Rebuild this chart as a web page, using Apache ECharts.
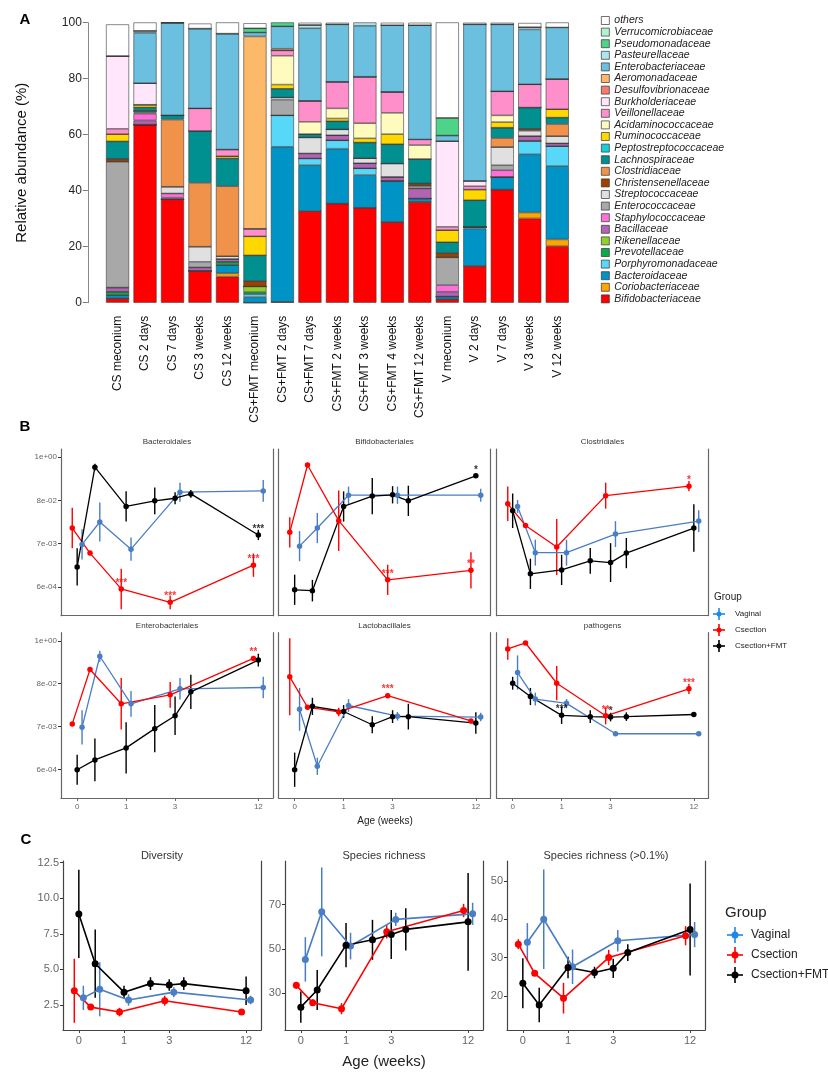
<!DOCTYPE html>
<html><head><meta charset="utf-8">
<script src="https://cdn.jsdelivr.net/npm/echarts@6/dist/echarts.min.js"></script>
<style>html,body{margin:0;padding:0;background:#fff}#c{width:828px;height:1087px}</style>
</head><body><div id="c"></div>
<script>
// ---------- Panel A data ----------
const samples=["CS meconium","CS 2 days","CS 7 days","CS 3 weeks","CS 12 weeks","CS+FMT meconium","CS+FMT 2 days","CS+FMT 7 days","CS+FMT 2 weeks","CS+FMT 3 weeks","CS+FMT 4 weeks","CS+FMT 12 weeks","V meconium","V 2 days","V 7 days","V 3 weeks","V 12 weeks"];
const families=["Bifidobacteriaceae","Coriobacteriaceae","Bacteroidaceae","Porphyromonadaceae","Prevotellaceae","Rikenellaceae","Bacillaceae","Staphylococcaceae","Enterococcaceae","Streptococcaceae","Christensenellaceae","Clostridiaceae","Lachnospiraceae","Peptostreptococcaceae","Ruminococcaceae","Acidaminococcaceae","Veillonellaceae","Burkholderiaceae","Desulfovibrionaceae","Aeromonadaceae","Enterobacteriaceae","Pasteurellaceae","Pseudomonadaceae","Verrucomicrobiaceae","others"];
const famColors=["#FF0000","#FFA500","#0093C6","#58D8F8","#0CA84B","#90D02A","#B462B2","#FF6FD8","#A8A8A8","#E0E0E0","#A04000","#F0924A","#009090","#16CFD9","#FFD800","#FFFBBF","#FF8FCB","#FFE6FA","#F47C6E","#FDB96A","#6BBFDF","#AEE6EF","#4DD488","#B2F2CF","#FFFFFF"];
const bifido=[1.5,63.6,36.9,11.4,9.3,0,0.3,32.7,35.4,33.9,28.8,36,1.2,13.1,40.4,30.1,20.2];
const corio=[0,0,0,0,1.2,0,0,0,0,0,0,0,0,0,0,2.1,2.4];
const bacteroid=[1.2,0,0,0,2.9,2,55.4,16.4,19.6,11.7,14.7,1.2,1,13.4,4.5,20.8,26.2];
const porphyro=[0,0,0,0,0,1,11.2,2.4,3,2.4,0,0,0,0.6,0,4.8,7.1];
const prevotella=[1.2,0,0,0,1.2,0.8,0,0,0,0,0,0,0,0,0,0,0];
const rikenella=[0,0,0,0,0,2,0,0,0,0,0,0,0,0,0,0,0];
const bacillac=[1.5,1.5,0.6,1.2,1,0,0,1.8,1.8,1.8,1.4,3.6,1.7,0,0,1.7,1];
const staphylo=[0,2.4,1.5,0,0,0,0,0,0,0,0,0,2.4,0,2.4,0,0];
const enterococ=[45,0.5,0,2,0,0,5.6,0,0,0,0,1,9.9,0,1.8,0,0];
const strepto=[0,0.5,2.4,5.4,1,0,0.8,5.7,2.1,1.8,4.8,0,0,0,6.5,1.9,2.6];
const christen=[1,0,0,0,0,1.9,0,0,0,0,0,0.8,1.5,0,0,0.7,0];
const clostrid=[0,0,24,22.8,25,0,0,0,0,0,0,0,0,0,3.2,0,4.3];
const lachno=[6.2,1.2,1.5,18.5,9.9,9.2,3.1,1.2,2.9,5.6,6.9,8.7,3.9,9.5,3.7,7.6,2.3];
const peptostrep=[0,0,0,0,0,0,0,0,0,0,0,0,0,0,0,0,0];
const rumino=[2.6,1,0,0,0.8,6.8,1.5,0,1,1.5,3.6,0,4.3,3.8,2,0,3];
const acidamino=[0,0,0,0,0,0,10.3,4.4,3.6,5.4,7.6,5,0,0,2.4,0,0];
const veillon=[1.9,0,0,8.1,2.4,2.7,1.9,7.5,9.5,16.6,7.5,2,1.2,1.2,8.6,8.3,10.8];
const burkhold=[26,7.7,0,0,0,0,0,0,0,0,0,0,30.6,1.9,0,0,0];
const desulfo=[0,0,0,0,0,0,0,0,0,0,0,0,0,0,0,0,0];
const aeromon=[0,0,0,0,0,68.7,0.6,0,0,0,0,0,0,0,0,0,0];
const enterobact=[0,18,33.1,28.5,41.4,1.4,8,25.9,20.5,18.2,23.8,40.8,2,55.9,23.9,19.6,18.4];
const pasteur=[0,0.7,0,0,0,0,0,1.2,0,1.2,0,0,0,0,0,0.8,0];
const pseudomon=[0,0,0,0,0,1.5,1.5,0,0,0,0,0,6.3,0,0,0,0];
const verruco=[0,0,0,0,0,0,0,0,0,0,0,0,0,0,0,0,0];
const others=[11.3,3,0,1.8,4.2,1.8,0,0.8,0.6,0,0.9,0.9,34.4,0.6,0.6,1.5,1.8];
const famValues=[bifido,corio,bacteroid,porphyro,prevotella,rikenella,bacillac,staphylo,enterococ,strepto,christen,clostrid,lachno,peptostrep,rumino,acidamino,veillon,burkhold,desulfo,aeromon,enterobact,pasteur,pseudomon,verruco,others];
const aTicks=[0,20,40,60,80,100];

// ---------- Panel B data (log-abundance in axis-tick units: 0=1e+00,-1=8e-02,-2=7e-03,-3=6e-04) ----------
const groups=["Vaginal","Csection","Csection+FMT"];
const groupColors=["#4A7EC4","#FF0000","#000000"];
const weeksVC=[0,2/7,1,3,12];
const weeksF=[0,2/7,1,2,3,4,12];
const weekTicks=[0,1,3,12];
const bTickLabels=["1e+00","8e-02","7e-03","6e-04"];
const bOrders=["Bacteroidales","Bifidobacteriales","Clostridiales","Enterobacteriales","Lactobacillales","pathogens"];
const bVag=[[-2.02,-1.50,-2.13,-0.81,-0.78],[-2.06,-1.64,-0.88,-0.88,-0.88],[-1.14,-2.21,-2.21,-1.78,-1.48],[-2.02,-0.36,-1.47,-1.12,-1.09],[-1.60,-2.93,-1.51,-1.76,-1.78],[-0.74,-1.36,-1.46,-2.17,-2.17]];
const bVagErr=[[0.35,0.45,0.27,0.22,0.25],[0.35,0.35,0.2,0.2,0.15],[0.15,0.3,0.3,0.3,0.25],[0.4,0.13,0.3,0.25,0.25],[0.5,0.2,0.15,0.1,0.1],[0.4,0.15,0.1,0.05,0.05]];
const bCs=[[-1.64,-2.22,-3.05,-3.36,-2.50],[-1.74,-0.18,-1.47,-2.84,-2.62],[-1.08,-1.58,-2.08,-0.89,-0.67],[-1.94,-0.67,-1.47,-1.26,-0.41],[-0.84,-1.55,-1.66,-1.28,-1.87],[-0.19,-0.05,-0.99,-1.75,-1.12]];
const bCsErr=[[0.47,0.05,0.47,0.16,0.27],[0.35,0.05,0.7,0.35,0.42],[0.4,0.05,0.65,0.3,0.12],[0.03,0.05,0.6,0.3,0.05],[0.9,0.05,0.1,0.05,0.05],[0.25,0.03,0.4,0.2,0.12]];
const bFmt=[[-2.54,-0.23,-1.14,-1.01,-0.95,-0.85,-1.80],[-3.07,-3.09,-1.14,-0.90,-0.87,-1.01,-0.43],[-1.24,-2.70,-2.61,-2.40,-2.44,-2.22,-1.64],[-3.01,-2.78,-2.50,-2.05,-1.75,-1.19,-0.45],[-3.01,-1.53,-1.65,-1.96,-1.77,-1.77,-1.92],[-0.99,-1.30,-1.74,-1.77,-1.78,-1.77,-1.72]];
const bFmtErr=[[0.43,0.08,0.35,0.31,0.14,0.09,0.12],[0.35,0.25,0.35,0.42,0.2,0.35,0.05],[0.4,0.35,0.35,0.3,0.45,0.35,0.55],[0.35,0.5,0.6,0.55,0.45,0.4,0.15],[0.4,0.2,0.15,0.2,0.15,0.3,0.25],[0.15,0.2,0.2,0.15,0.1,0.1,0.03]];
// [panel, group, point index, text]
const bStars=[[0,1,2,"***"],[0,1,3,"***"],[0,1,4,"***"],[0,2,6,"***"],[1,1,3,"***"],[1,1,4,"**"],[1,2,6,"*"],[2,1,4,"*"],[3,1,4,"**"],[4,1,3,"***"],[5,2,2,"***"],[5,1,3,"**"],[5,2,4,"*"],[5,1,4,"***"]];

// ---------- Panel C data ----------
const cTitles=["Diversity","Species richness","Species richness (>0.1%)"];
const cTicks=[[2.5,5,7.5,10,12.5],[30,50,70],[20,30,40,50]];
const cVag=[[3.0,3.6,2.85,3.4,2.85],[45.3,66.7,51.3,63.3,65.8],[34,40,27.6,34.4,36]];
const cVagErr=[[0.85,1.9,0.4,0.35,0.3],[10,20,6,3,5],[5,13,4.5,2.8,3.3]];
const cCs=[[3.5,2.35,2.0,2.8,2.0],[33.6,25.8,23.1,57.7,67.3],[33.5,25.9,19.4,30,35.7]];
const cCsErr=[[2.25,0.2,0.3,0.35,0.2],[1.5,1.5,2.5,3,3],[1.3,0.5,4,2,2.5]];
const cFmt=[[8.9,5.4,3.4,4.0,3.9,4.0,3.5],[23.8,31.5,51.7,54.1,56.5,58.8,62.2],[23.3,17.6,27.4,26.1,27.2,31.3,37.3]];
const cFmtErr=[[3.1,2.4,0.45,0.45,0.4,0.45,1.0],[7,9,10,9,11,9.5,22],[6.5,4.5,2.8,1.5,2.5,2.2,12]];

// ---------- build ----------
const tx=w=>Math.log2(w+1);
const dodge=[0.1,-0.1,0];
const FONT="Liberation Sans, Arial, sans-serif";
const grids=[],xAxes=[],yAxes=[],series=[],graphic=[];
function weekLabel(v){let best=weekTicks[0];weekTicks.forEach(w=>{if(Math.abs(tx(w)-v)<Math.abs(tx(best)-v))best=w;});return String(best);}

// Panel A
grids.push({left:103.8,top:22.7,width:467.2,height:280});
xAxes.push({type:'category',gridIndex:0,data:samples,axisLine:{show:false},axisTick:{show:false},
  axisLabel:{rotate:90,fontSize:12,color:'#111',fontFamily:FONT,margin:13}});
yAxes.push({type:'value',gridIndex:0,min:0,max:100,offset:16,splitLine:{show:false},
  axisLabel:{customValues:aTicks,fontSize:12,color:'#222',fontFamily:FONT,margin:6},axisTick:{show:true,customValues:aTicks,length:5,lineStyle:{color:'#777'}},
  axisLine:{show:true,lineStyle:{color:'#888'}},
  name:'Relative abundance (%)',nameLocation:'middle',nameGap:58,nameTextStyle:{fontSize:15,color:'#111',fontFamily:FONT}});
families.forEach((f,i)=>{
  series.push({type:'bar',name:f,stack:'a',xAxisIndex:0,yAxisIndex:0,data:famValues[i],barCategoryGap:'16%',
    itemStyle:{color:famColors[i],borderColor:'#3a3a3a',borderWidth:0.6}});
});

function addLineGrid(box,xr,yr,yTicks,yLabelFn,showY,showX,fs,lineCol){
  const gi=grids.length;
  grids.push(box);
  xAxes.push({type:'value',gridIndex:gi,min:xr[0],max:xr[1],splitLine:{show:false},
    axisLine:{show:true,onZero:false,lineStyle:{color:lineCol,width:1.2}},
    axisTick:{show:showX,customValues:weekTicks.map(tx),length:3,lineStyle:{color:lineCol}},
    axisLabel:{show:showX,customValues:weekTicks.map(tx),formatter:weekLabel,fontSize:fs,color:'#666',fontFamily:FONT,margin:5}});
  yAxes.push({type:'value',gridIndex:gi,min:yr[0],max:yr[1],splitLine:{show:false},
    axisLine:{show:true,onZero:false,lineStyle:{color:lineCol,width:1.2}},
    axisTick:{show:showY,customValues:yTicks,length:3,lineStyle:{color:'#333'}},
    axisLabel:{show:showY,customValues:yTicks,formatter:yLabelFn,fontSize:fs,color:'#666',fontFamily:FONT,margin:4}});
  yAxes.push({type:'value',gridIndex:gi,position:'right',min:yr[0],max:yr[1],splitLine:{show:false},
    axisLine:{show:true,onZero:false,lineStyle:{color:lineCol,width:1.2}},axisTick:{show:false},axisLabel:{show:false}});
  return {xi:xAxes.length-1,yi:yAxes.length-2};
}
function errSeries(ax,pts,color,lw){
  return {type:'custom',xAxisIndex:ax.xi,yAxisIndex:ax.yi,data:pts,silent:true,z:3,
    renderItem:(p,api)=>{const a=api.coord([api.value(0),api.value(1)]),b=api.coord([api.value(0),api.value(2)]);
      return {type:'line',shape:{x1:a[0],y1:a[1],x2:b[0],y2:b[1]},style:{stroke:color,lineWidth:lw}};}};
}
function addGroupSeries(ax,means,errs,stars,symSize,lw,elw,fs){
  [0,1,2].forEach(g=>{
    const wk=g===2?weeksF:weeksVC;
    const pts=means[g].map((m,i)=>[tx(wk[i])+dodge[g],m]);
    series.push(errSeries(ax,means[g].map((m,i)=>[tx(wk[i])+dodge[g],m-errs[g][i],m+errs[g][i]]),groupColors[g],elw));
    series.push({type:'line',xAxisIndex:ax.xi,yAxisIndex:ax.yi,data:pts,symbol:'circle',symbolSize:symSize,z:4,
      lineStyle:{color:groupColors[g],width:lw},itemStyle:{color:groupColors[g]},animation:false});
  });
  if(stars&&stars.length){
    series.push({type:'scatter',xAxisIndex:ax.xi,yAxisIndex:ax.yi,symbolSize:0,z:5,
      data:stars.map(s=>{const wk=s[1]===2?weeksF:weeksVC;return {value:[tx(wk[s[2]])+dodge[s[1]],means[s[1]][s[2]]],
        label:{show:true,formatter:s[3],position:'top',distance:1,color:groupColors[s[1]],fontSize:fs,fontWeight:'bold',fontFamily:FONT}};})});
  }
}

// Panel B
const bLefts=[61,278.5,496.5],bTops=[449,632.7],bHeights=[166.7,165.3];
bOrders.forEach((name,k)=>{
  const r=Math.floor(k/3),c=k%3;
  const ax=addLineGrid({left:bLefts[c],top:bTops[r],width:212,height:bHeights[r]},[-0.33,4.0],[-3.67,0.19],[0,-1,-2,-3],
    v=>bTickLabels[Math.round(-v)],c===0,r===1,8,'#666');
  addGroupSeries(ax,[bVag[k],bCs[k],bFmt[k]],[bVagErr[k],bCsErr[k],bFmtErr[k]],bStars.filter(s=>s[0]===k).map(s=>[0,s[1],s[2],s[3]]),5.5,1.3,1.4,10);
  graphic.push({type:'text',x:bLefts[c]+106,y:bTops[r]-7,style:{text:name,fontSize:8,fill:'#333',fontFamily:FONT,align:'center',verticalAlign:'middle'}});
});

// Panel C
const cLefts=[63,285,507],cRanges=[[0.74,12.62],[13.5,89.6],[11.1,55.2]];
cTitles.forEach((t,k)=>{
  const ax=addLineGrid({left:cLefts[k],top:861,width:198,height:169},[-0.35,4.03],cRanges[k],cTicks[k],
    v=>k===0?v.toFixed(1):String(v),true,true,11,'#444');
  addGroupSeries(ax,[cVag[k],cCs[k],cFmt[k]],[cVagErr[k],cCsErr[k],cFmtErr[k]],[],7,1.6,1.5,10);
  graphic.push({type:'text',x:cLefts[k]+99,y:856,style:{text:t,fontSize:11,fill:'#333',fontFamily:FONT,align:'center',verticalAlign:'middle'}});
});

// letters, axis titles, group legends
[["A",25,20],["B",25,427],["C",26,840]].forEach(l=>graphic.push({type:'text',x:l[1],y:l[2],style:{text:l[0],fontSize:15,fontWeight:'bold',fill:'#000',fontFamily:FONT,align:'center',verticalAlign:'middle'}}));
graphic.push({type:'text',x:385,y:821,style:{text:'Age (weeks)',fontSize:10,fill:'#222',fontFamily:FONT,align:'center',verticalAlign:'middle'}});
graphic.push({type:'text',x:384,y:1062,style:{text:'Age (weeks)',fontSize:15,fill:'#222',fontFamily:FONT,align:'center',verticalAlign:'middle'}});
function groupLegend(x,titleY,ys,sx,tx2,fs,tfs,half,dot){
  graphic.push({type:'text',x:x,y:titleY,style:{text:'Group',fontSize:tfs,fill:'#222',fontFamily:FONT,verticalAlign:'middle'}});
  const lc=['#1E88E5','#FF0000','#000000'];
  groups.forEach((g,i)=>{
    const y=ys[i];
    graphic.push({type:'line',shape:{x1:sx-half,y1:y,x2:sx+half,y2:y},style:{stroke:lc[i],lineWidth:1.6}});
    graphic.push({type:'line',shape:{x1:sx,y1:y-half,x2:sx,y2:y+half},style:{stroke:lc[i],lineWidth:1.6}});
    graphic.push({type:'circle',shape:{cx:sx,cy:y,r:dot},style:{fill:lc[i]}});
    graphic.push({type:'text',x:tx2,y:y,style:{text:g,fontSize:fs,fill:'#222',fontFamily:FONT,verticalAlign:'middle'}});
  });
}
groupLegend(714,597,[614,630,646],719,735,8,10,6,2.5);
groupLegend(725,913,[935,955,975],735,751,12,15,8,3.5);

const chart=echarts.init(document.getElementById('c'),null,{renderer:'canvas'});
chart.setOption({animation:false,textStyle:{fontFamily:FONT},
  legend:{orient:'vertical',left:596,top:10,data:families.slice().reverse(),icon:'rect',itemWidth:8,itemHeight:8,itemGap:0.6,
    textStyle:{fontSize:10.5,fontStyle:'italic',color:'#222',fontFamily:FONT},selectedMode:false,
    itemStyle:{borderColor:'#333',borderWidth:0.7}},
  grid:grids,xAxis:xAxes,yAxis:yAxes,series:series,graphic:graphic});
</script></body></html>
